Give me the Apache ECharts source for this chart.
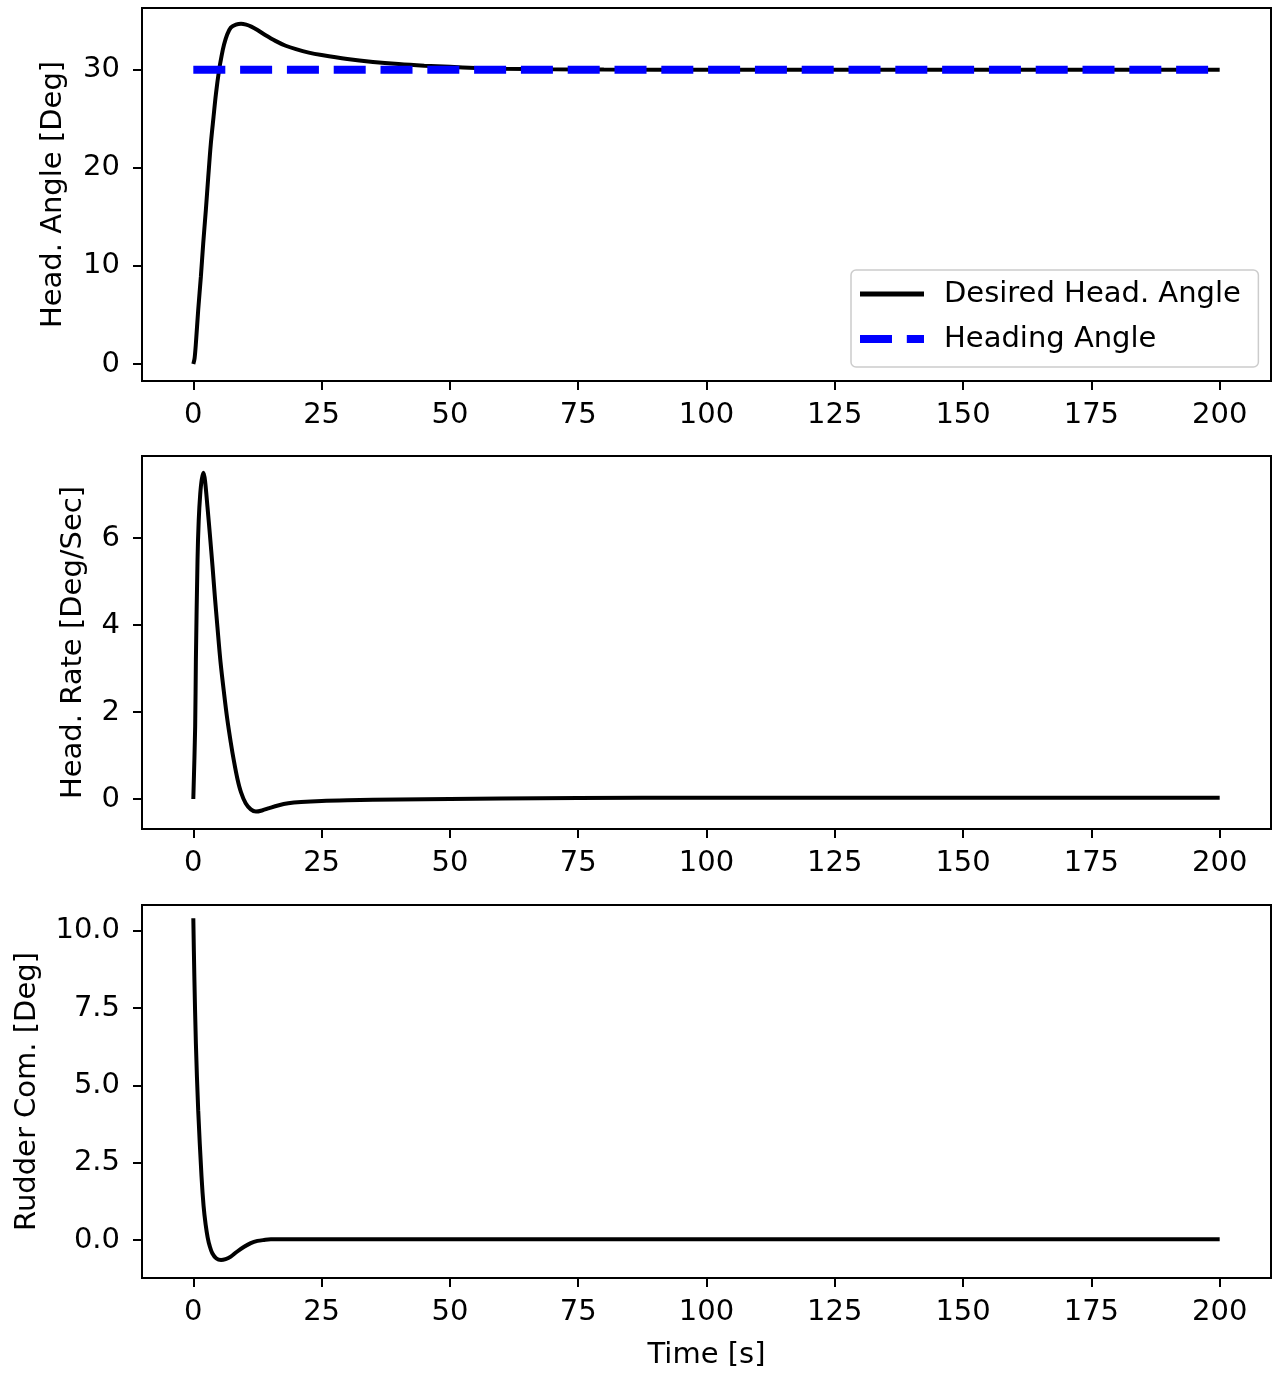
<!DOCTYPE html>
<html>
<head>
<meta charset="utf-8">
<script src="https://cdn.jsdelivr.net/npm/echarts@6/dist/echarts.min.js"></script>
<style>
  html, body { margin: 0; padding: 0; background: #ffffff; }
  #chart { width: 1274px; height: 1374px; }
</style>
</head>
<body>
<div id="chart"></div>
<script>
// Tick positions for the shared time axis and the three value axes
const timeTicks = [0, 25, 50, 75, 100, 125, 150, 175, 200];
const angleTicks = [0, 10, 20, 30];
const rateTicks = [0, 2, 4, 6];
const rudderTicks = [0, 2.5, 5, 7.5, 10];

// Panel 1: heading response (solid black) and the 30 deg set-point (blue dashed)
const desiredHeadT = [0, 0.25, 0.5, 0.95, 1.47, 1.93, 2.44, 2.9, 3.4, 3.94, 4.4, 5.0, 5.5, 6.0, 6.6, 7.3, 8.3, 9.3, 10.3, 11.3, 12.5, 14, 16, 18, 20, 22.5, 25, 30, 35, 40, 45, 50, 55, 60, 70, 80, 100, 125, 150, 175, 200];
const desiredHeadV = [0, 0.6, 2.1, 5.5, 8.9, 12.3, 15.7, 19.0, 22.4, 25.2, 27.5, 29.9, 31.4, 32.6, 33.6, 34.3, 34.6, 34.7, 34.6, 34.4, 34.05, 33.55, 32.95, 32.45, 32.1, 31.75, 31.5, 31.1, 30.8, 30.58, 30.42, 30.3, 30.18, 30.11, 30.05, 30.02, 30.0, 30.0, 30.0, 30.0, 30.0];
const headingAngleT = [0, 200];
const headingAngleV = [30, 30];

// Panel 2: heading rate
const headRateT = [0, 0.36, 0.5, 0.82, 1.05, 1.34, 1.65, 2.0, 2.3, 2.77, 3.25, 3.74, 4.2, 4.7, 5.3, 6.0, 6.6, 7.3, 7.9, 8.6, 9.3, 10.2, 11.2, 12.2, 13.5, 14.8, 16.5, 18.5, 21, 25, 30, 40, 50, 60, 75, 100, 125, 150, 175, 200];
const headRateV = [0, 1.66, 3.2, 5.5, 6.4, 7.0, 7.35, 7.5, 7.3, 6.7, 6.05, 5.35, 4.65, 3.95, 3.15, 2.42, 1.85, 1.3, 0.88, 0.46, 0.15, -0.1, -0.24, -0.29, -0.26, -0.21, -0.15, -0.1, -0.07, -0.045, -0.03, -0.01, 0.0, 0.01, 0.02, 0.03, 0.03, 0.03, 0.03, 0.03];

// Panel 3: rudder command
const rudderT = [0, 0.2, 0.5, 0.95, 1.6, 2.0, 2.4, 2.8, 3.2, 3.7, 4.5, 5.4, 6.3, 7.3, 8.5, 9.9, 11.2, 12.5, 13.8, 15.1, 17, 20, 25, 30, 40, 50, 75, 100, 125, 150, 175, 200];
const rudderV = [10.41, 8.52, 6.36, 4.2, 2.05, 1.1, 0.5, 0.08, -0.2, -0.43, -0.6, -0.65, -0.62, -0.54, -0.38, -0.22, -0.1, -0.03, 0.0, 0.02, 0.02, 0.02, 0.02, 0.02, 0.02, 0.02, 0.02, 0.02, 0.02, 0.02, 0.02, 0.02];

const pairs = (t, v) => t.map((x, i) => [x, v[i]]);

const FONT = 'DejaVu Sans';
const FS = 29;
const INK = '#000000';
const BLUE = '#0000ff';
const BLUE_DASH = [32, 14.8];
const textBase = { fontFamily: FONT, fontSize: FS, color: INK };

const gridTops = [8, 456, 905];
const grid = gridTops.map(top => ({
  left: 142, width: 1129, top: top, height: 373,
  show: true, borderColor: INK, borderWidth: 2,
  backgroundColor: 'transparent', containLabel: false, outerBoundsMode: 'none'
}));

function timeAxis(gi, withName) {
  return {
    type: 'value', gridIndex: gi, min: -10, max: 210, position: 'bottom',
    axisLine: { show: false, onZero: false },
    axisTick: { show: true, inside: false, length: 9, customValues: timeTicks, lineStyle: { color: INK, width: 2 } },
    axisLabel: Object.assign({ show: true, margin: 20, customValues: timeTicks }, textBase),
    splitLine: { show: false },
    name: withName ? 'Time [s]' : '',
    nameLocation: 'middle', nameGap: 63,
    nameTextStyle: textBase
  };
}

function valueAxis(gi, min, max, ticks, name, gap, fmt) {
  return {
    type: 'value', gridIndex: gi, min: min, max: max, position: 'left',
    axisLine: { show: false, onZero: false },
    axisTick: { show: true, inside: false, length: 9, customValues: ticks, lineStyle: { color: INK, width: 2 } },
    axisLabel: Object.assign({ show: true, margin: 22, customValues: ticks, formatter: fmt }, textBase),
    splitLine: { show: false },
    name: name, nameLocation: 'middle', nameGap: gap, nameRotate: 90,
    nameTextStyle: textBase
  };
}

const chart = echarts.init(document.getElementById('chart'), null, { renderer: 'canvas' });
chart.setOption({
  animation: false,
  backgroundColor: '#ffffff',
  grid: grid,
  xAxis: [timeAxis(0, false), timeAxis(1, false), timeAxis(2, true)],
  yAxis: [
    valueAxis(0, -1.73, 36.3, angleTicks, 'Head. Angle [Deg]', 74, v => String(v)),
    valueAxis(1, -0.69, 7.885, rateTicks, 'Head. Rate [Deg/Sec]', 54, v => String(v)),
    valueAxis(2, -1.23, 10.84, rudderTicks, 'Rudder Com. [Deg]', 100, v => v.toFixed(1))
  ],
  legend: {
    orient: 'vertical', left: 851, top: 270,
    data: [
      { name: 'Desired Head. Angle', lineStyle: { color: INK, width: 5, type: 'solid' } },
      { name: 'Heading Angle', lineStyle: { color: BLUE, width: 8, type: BLUE_DASH } }
    ],
    itemWidth: 64, itemHeight: 29, itemGap: 16,
    itemStyle: { opacity: 0, borderWidth: 0 },
    padding: [9.5, 17.5, 13.5, 5],
    backgroundColor: 'rgba(255,255,255,0.8)',
    borderColor: '#cccccc', borderWidth: 1.5, borderRadius: 5,
    selectedMode: false,
    textStyle: Object.assign({ padding: [0, 0, 0, 15] }, textBase)
  },
  series: [
    {
      type: 'line', name: 'Desired Head. Angle', xAxisIndex: 0, yAxisIndex: 0,
      data: pairs(desiredHeadT, desiredHeadV),
      symbol: 'none', showSymbol: false, smooth: 0.3,
      lineStyle: { color: INK, width: 4 }, itemStyle: { color: INK }, z: 2
    },
    {
      type: 'line', name: 'Heading Angle', xAxisIndex: 0, yAxisIndex: 0,
      data: pairs(headingAngleT, headingAngleV),
      symbol: 'none', showSymbol: false,
      lineStyle: { color: BLUE, width: 8, type: BLUE_DASH }, itemStyle: { color: BLUE }, z: 3
    },
    {
      type: 'line', name: 'Head. Rate', xAxisIndex: 1, yAxisIndex: 1,
      data: pairs(headRateT, headRateV),
      symbol: 'none', showSymbol: false, smooth: 0.3,
      lineStyle: { color: INK, width: 4 }, itemStyle: { color: INK }
    },
    {
      type: 'line', name: 'Rudder Com.', xAxisIndex: 2, yAxisIndex: 2,
      data: pairs(rudderT, rudderV),
      symbol: 'none', showSymbol: false, smooth: 0.3,
      lineStyle: { color: INK, width: 4 }, itemStyle: { color: INK }
    }
  ]
});
</script>
</body>
</html>
